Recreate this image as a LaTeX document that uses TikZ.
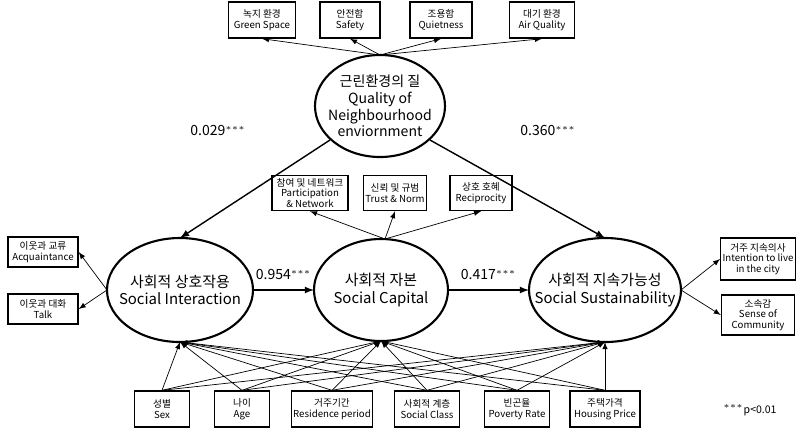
\documentclass[tikz,border=0pt]{standalone}
\usepackage{fontspec}
\setmainfont{Noto Sans CJK KR}
\usetikzlibrary{shapes,arrows,positioning}
\begin{document}
\begin{tikzpicture}[x=0.02cm,y=-0.02cm,
    box/.style={draw,thick,align=center,font=\fontsize{5.5}{6}\selectfont,inner sep=1pt},
    lname/.style={align=center,font=\fontsize{8.5}{10}\selectfont},
    link/.style={-latex,thin},
    path/.style={-latex,thick},
    coef/.style={font=\fontsize{8}{9}\selectfont}]
  \useasboundingbox (0,0) rectangle (800,434);

  % latent variables
  \draw[very thick] (380,106) ellipse [x radius=65, y radius=51];
  \node[align=center,font=\fontsize{8}{9.5}\selectfont] (env) at (380,106) {근린환경의 질\\Quality of\\Neighbourhood\\enviornment};
  \coordinate (envL) at (330,140);
  \coordinate (envR) at (430,140);
  \coordinate (envT) at (380,55);
  \draw[very thick] (180,290) ellipse [x radius=73, y radius=52];
  \draw[very thick] (381,290) ellipse [x radius=67, y radius=51];
  \draw[very thick] (605,290) ellipse [x radius=76, y radius=52];
  \node[lname] (si) at (180,290) {사회적 상호작용\\Social Interaction};
  \node[lname] (sc) at (381,290) {사회적 자본\\Social Capital};
  \node[lname] (ss) at (605,290) {사회적 지속가능성\\Social Sustainability};
  \coordinate (siT) at (180,238); \coordinate (siB) at (180,342);
  \coordinate (siE) at (253,290); \coordinate (siW) at (107,290);
  \coordinate (scTop) at (385,239); \coordinate (scB) at (381,341);
  \coordinate (scE) at (448,290); \coordinate (scW) at (314,290);
  \coordinate (ssT) at (605,238); \coordinate (ssB) at (605,342);
  \coordinate (ssW) at (529,290); \coordinate (ssE) at (681,290);

  % top indicators
  \node[box,minimum width=1.34cm,minimum height=0.72cm] (gs) at (262,20) {녹지 환경\\Green Space};
  \node[box,minimum width=1.2cm,minimum height=0.72cm] (sf) at (350,20) {안전함\\Safety};
  \node[box,minimum width=1.24cm,minimum height=0.72cm] (qu) at (441,20) {조용함\\Quietness};
  \node[box,minimum width=1.3cm,minimum height=0.72cm] (aq) at (542,20) {대기 환경\\Air Quality};
  \foreach \b in {gs,sf,qu,aq} \draw[link] (envT) -- (\b.south);

  % structural paths
  \draw[path] (envL) -- (siT);
  \draw[path] (envR) -- (ssT);
  \node[coef] (c1) at (218,130) {0.029$^{\scriptscriptstyle ***}$};
  \node[coef] (c2) at (548,130) {0.360$^{\scriptscriptstyle ***}$};
  \draw[path] (siE) -- (scW) node[coef,midway,above=2pt] {0.954$^{\scriptscriptstyle ***}$};
  \draw[path] (scE) -- (ssW) node[coef,midway,above=2pt] {0.417$^{\scriptscriptstyle ***}$};

  % social capital indicators
  \node[box,minimum width=1.52cm,minimum height=0.7cm] (pn) at (310,193) {참여 및 네트워크\\Participation\\\& Network};
  \node[box,minimum width=1.2cm,minimum height=0.7cm] (tn) at (395,193) {신뢰 및 규범\\Trust \& Norm};
  \node[box,minimum width=1.24cm,minimum height=0.7cm] (rc) at (481,193) {상호 호혜\\Reciprocity};
  \foreach \b in {pn,tn,rc} \draw[link] (scTop) -- (\b.south);

  % left and right indicators
  \node[box,minimum width=1.4cm,minimum height=0.6cm] (aqt) at (43,252) {이웃과 교류\\Acquaintance};
  \node[box,minimum width=1.4cm,minimum height=0.6cm] (tk) at (43,309) {이웃과 대화\\Talk};
  \foreach \b in {aqt,tk} \draw[link] (siW) -- (\b.east);
  \node[box,minimum width=1.46cm,minimum height=0.84cm] (il) at (758,259) {거주 지속의사\\Intention to live\\in the city};
  \node[box,minimum width=1.46cm,minimum height=0.8cm] (cm) at (758,315) {소속감\\Sense of\\Community};
  \foreach \b in {il,cm} \draw[link] (ssE) -- (\b.west);

  % control variables
  \node[box,minimum width=1.1cm,minimum height=0.72cm] (sx) at (162,409) {성별\\Sex};
  \node[box,minimum width=1.1cm,minimum height=0.72cm] (ag) at (242,409) {나이\\Age};
  \node[box,minimum width=1.48cm,minimum height=0.72cm] (rp) at (332,409) {거주기간\\Residence period};
  \node[box,minimum width=1.3cm,minimum height=0.72cm] (cl) at (427,409) {사회적 계층\\Social Class};
  \node[box,minimum width=1.3cm,minimum height=0.72cm] (pr) at (517,409) {빈곤율\\Poverty Rate};
  \node[box,minimum width=1.4cm,minimum height=0.72cm] (hp) at (605,409) {주택가격\\Housing Price};
  \foreach \b in {sx,ag,rp,cl,pr,hp}
    \foreach \t in {siB,scB,ssB}
      \draw[link] (\b.north) -- (\t);

  \node[font=\fontsize{6}{7}\selectfont] (note) at (750,410) {$^{\scriptscriptstyle ***}$p<0.01};
\end{tikzpicture}
\end{document}
